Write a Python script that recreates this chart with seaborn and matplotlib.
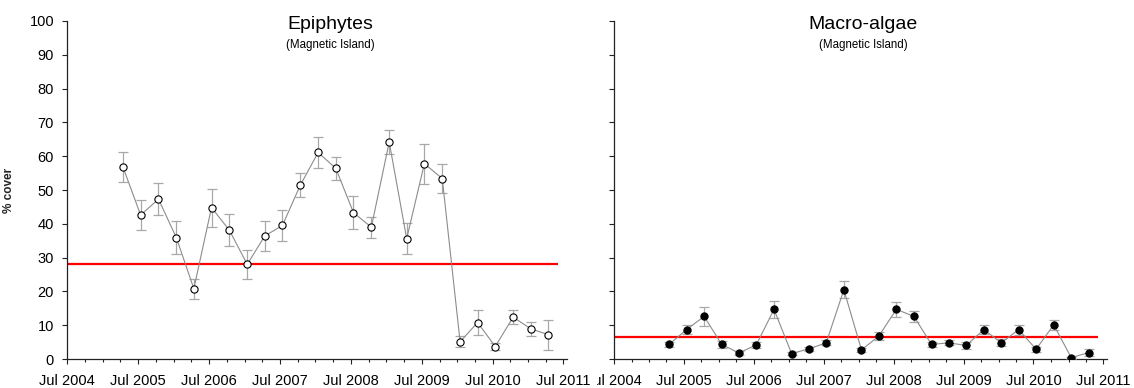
import matplotlib
matplotlib.use("Agg")
import matplotlib.pyplot as plt
import matplotlib.dates as mdates
from matplotlib.transforms import Bbox
import pandas as pd
import seaborn as sns


# Quarterly seagrass-site surveys, Magnetic Island (mean % cover and standard error).
survey_dates = [
    "2005-04-15", "2005-07-15", "2005-10-15", "2006-01-15", "2006-04-15",
    "2006-07-15", "2006-10-15", "2007-01-15", "2007-04-15", "2007-07-15",
    "2007-10-15", "2008-01-15", "2008-04-15", "2008-07-15", "2008-10-15",
    "2009-01-15", "2009-04-15", "2009-07-15", "2009-10-15", "2010-01-15",
    "2010-04-15", "2010-07-15", "2010-10-15", "2011-01-15", "2011-04-15",
]
epiphyte_cover = [
    56.8, 42.6, 47.3, 35.9, 20.8, 44.8, 38.1, 28.0, 36.4, 39.5,
    51.4, 61.1, 56.4, 43.3, 39.0, 64.2, 35.6, 57.8, 53.4, 5.1,
    10.8, 3.7, 12.4, 8.9, 7.2,
]
epiphyte_se = [
    4.4, 4.3, 4.8, 4.8, 3.0, 5.6, 4.7, 4.2, 4.5, 4.6,
    3.6, 4.7, 3.3, 4.8, 3.1, 3.5, 4.5, 5.9, 4.3, 1.6,
    3.8, 0.9, 2.0, 2.0, 4.4,
]
macroalgae_cover = [
    4.3, 8.7, 12.6, 4.3, 1.8, 4.2, 14.7, 1.6, 3.0, 4.8,
    20.5, 2.7, 6.8, 14.7, 12.6, 4.3, 4.8, 4.0, 8.7, 4.8,
    8.7, 2.9, 10.1, 0.4, 1.9,
]
macroalgae_se = [
    0.8, 1.3, 2.9, 1.0, 0.6, 0.9, 2.5, 0.5, 0.7, 0.8,
    2.5, 0.6, 1.1, 2.3, 1.7, 0.7, 0.7, 0.9, 1.3, 1.0,
    1.5, 0.7, 1.4, 0.3, 1.1,
]
epiphyte_guideline = 28.0
macroalgae_guideline = 6.4
guideline_span = ["2004-07-01", "2011-06-01"]
y_ticks = [0, 10, 20, 30, 40, 50, 60, 70, 80, 90, 100]

sns.set_theme(style="ticks")
plt.rcParams["font.family"] = ["Liberation Sans", "DejaVu Sans"]

fig = plt.figure(figsize=(11.34, 3.88), dpi=100)
ax_epi = fig.add_axes([0.0591, 0.0747, 0.441, 0.8712])
ax_mac = fig.add_axes([0.5414, 0.0747, 0.4347, 0.8712])


def draw_panel(ax, cover, se, guideline, title, face, title_x):
    df = pd.DataFrame({"date": pd.to_datetime(survey_dates), "cover": cover, "se": se})
    span = pd.to_datetime(guideline_span)
    ax.hlines(guideline, span[0], span[1], color="#ff0000", linewidth=1.6, zorder=2)
    ax.errorbar(df["date"], df["cover"], yerr=df["se"], fmt="none", ecolor="#a8a8a8",
                elinewidth=0.9, capsize=3.5, capthick=0.9, zorder=3)
    sns.lineplot(data=df, x="date", y="cover", ax=ax, color="#8c8c8c", linewidth=0.8,
                 marker="o", markersize=5.2, markerfacecolor=face, markeredgecolor="black",
                 markeredgewidth=0.8, zorder=4)

    ax.set_xlim(pd.Timestamp("2004-07-01"), pd.Timestamp("2011-07-20"))
    ax.set_ylim(0, 100)
    ax.set_yticks(y_ticks)
    ax.xaxis.set_major_locator(mdates.MonthLocator(bymonth=7))
    ax.xaxis.set_minor_locator(mdates.MonthLocator(bymonth=[1, 4, 7, 10]))
    ax.xaxis.set_major_formatter(mdates.DateFormatter("%b %Y"))
    ax.set_xlabel("")
    ax.set_ylabel("")
    for side in ["top", "right"]:
        ax.spines[side].set_visible(False)
    for side in ["left", "bottom"]:
        ax.spines[side].set_linewidth(0.9)
        ax.spines[side].set_color("#222222")
    ax.tick_params(axis="both", which="major", direction="out", length=3.8, width=0.8,
                   color="#222222", labelsize=10.5, labelcolor="black")
    ax.tick_params(axis="y", which="major", pad=5.5)
    ax.tick_params(axis="x", which="major", pad=7)
    ax.tick_params(axis="x", which="minor", direction="out", length=2.3, width=0.8, color="#222222")

    ax.text(title_x, 0.991, title, transform=ax.transAxes,
            ha="center", va="center", fontsize=14, color="black")
    ax.text(title_x, 0.929, "(Magnetic Island)", transform=ax.transAxes,
            ha="center", va="center", fontsize=8.3, color="black")


draw_panel(ax_epi, epiphyte_cover, epiphyte_se, epiphyte_guideline, "Epiphytes", "white", 0.527)
draw_panel(ax_mac, macroalgae_cover, macroalgae_se, macroalgae_guideline, "Macro-algae", "black", 0.505)

ax_mac.tick_params(axis="y", labelleft=False)
ax_epi.set_ylabel("% cover", fontsize=8.5, fontweight="bold")
ax_epi.yaxis.set_label_coords(-0.104, 0.5)

# the right panel's first date label is cut off on its left side in the original
fig.canvas.draw()
first_label = ax_mac.xaxis.get_major_ticks()[0].label1
first_label.set_clip_box(Bbox.from_extents(597, 0, 1134, 388))
first_label.set_clip_on(True)

fig.savefig("out.png", dpi=100)
